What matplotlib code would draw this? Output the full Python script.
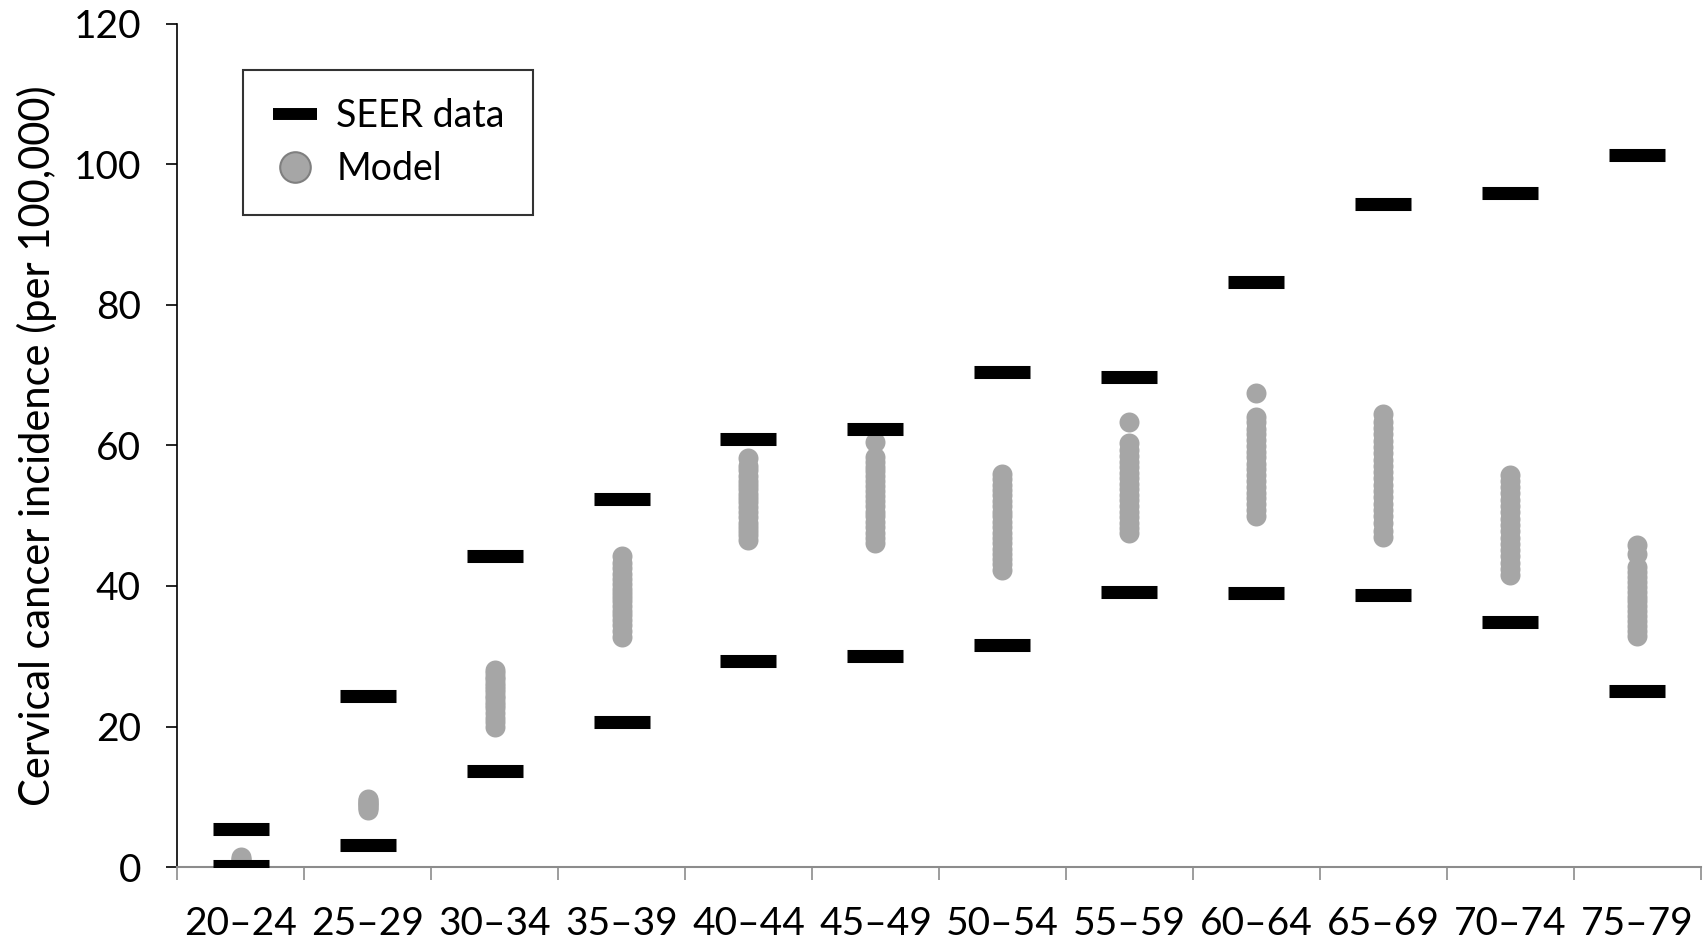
import matplotlib
matplotlib.use('Agg')
import matplotlib.pyplot as plt
from matplotlib.lines import Line2D

plt.rcParams['font.family'] = ['Lato', 'DejaVu Sans']

grupos = ['20–24', '25–29', '30–34', '35–39', '40–44', '45–49',
          '50–54', '55–59', '60–64', '65–69', '70–74', '75–79']

# SEER: limite alto y bajo por grupo de edad
seer_alto = [5.4, 24.3, 44.3, 52.4, 60.9, 62.3, 70.4, 69.7, 83.3, 94.3, 95.9, 101.3]
seer_bajo = [0.2, 3.1, 13.6, 20.6, 29.3, 30.1, 31.6, 39.2, 39.0, 38.7, 34.9, 25.1]

# resultados del modelo (cada punto una corrida)
modelo = [
    [1.0, 1.2, 1.4],
    [8.1, 8.4, 8.6, 8.8, 9.0, 9.1, 9.3, 9.5, 9.7],
    [20.0, 20.6, 21.2, 21.9, 22.6, 23.1, 23.5, 24.0, 24.4, 24.9, 25.3, 25.8, 26.2, 26.7, 27.1, 27.6, 28.0],
    [32.8, 33.6, 34.5, 35.2, 35.9, 36.5, 37.1, 37.8, 38.4, 39.0, 39.6, 40.3, 41.0, 41.7, 42.5, 43.3, 44.2],
    [46.6, 47.2, 47.8, 48.4, 49.0, 49.8, 50.5, 51.2, 51.9, 52.5, 53.1, 53.8, 54.4, 55.0, 55.7, 56.5, 57.1, 58.2],
    [46.1, 46.9, 47.6, 48.4, 49.1, 49.9, 50.6, 51.4, 52.1, 52.8, 53.5, 54.2, 54.9, 55.6, 56.3, 57.0, 57.7, 58.4, 60.5],
    [42.3, 43.1, 43.8, 44.6, 45.3, 46.1, 46.9, 47.6, 48.4, 49.1, 49.9, 50.6, 51.4, 52.1, 52.9, 53.6, 54.4, 55.2, 56.0],
    [47.5, 48.3, 49.0, 49.8, 50.6, 51.4, 52.2, 53.0, 53.8, 54.5, 55.3, 56.1, 56.9, 57.7, 58.5, 59.4, 60.3, 63.3],
    [50.0, 50.8, 51.6, 52.5, 53.3, 54.1, 55.0, 55.8, 56.6, 57.4, 58.3, 59.1, 59.9, 60.8, 61.6, 62.4, 63.3, 64.1, 67.4],
    [47.0, 47.8, 48.9, 49.9, 50.8, 51.7, 52.6, 53.5, 54.4, 55.3, 56.2, 57.1, 58.0, 58.9, 59.8, 60.7, 61.6, 62.5, 63.4, 64.5],
    [41.5, 42.4, 43.3, 44.2, 45.1, 46.0, 46.9, 47.8, 48.7, 49.6, 50.5, 51.4, 52.3, 53.2, 54.1, 55.0, 55.8],
    [32.9, 33.6, 34.3, 35.0, 35.7, 36.4, 37.1, 37.8, 38.5, 39.2, 39.9, 40.6, 41.3, 42.0, 42.7, 44.6, 45.8],
]

gris = '#a6a6a6'

fig = plt.figure(figsize=(17.04, 9.41), dpi=100)
ax = fig.add_axes([0.104, 0.0786, 0.894, 0.896])

for i, vals in enumerate(modelo):
    ax.plot([i] * len(vals), vals, 'o', color=gris, ms=14.4, mew=0, zorder=2)

x = list(range(len(grupos)))
ax.plot(x, seer_alto, '_', color='black', ms=40, mew=9.4, zorder=3)
ax.plot(x, seer_bajo, '_', color='black', ms=40, mew=9.4, zorder=3)

ax.set_xlim(-0.5, len(grupos) - 0.5)
ax.set_ylim(0, 120)
ax.set_yticks(range(0, 121, 20))
ax.set_xticks(x)
ax.set_xticklabels(grupos)
ax.set_xticks([i - 0.5 for i in range(len(grupos) + 1)], minor=True)
ax.tick_params(axis='x', which='major', length=0, pad=28, labelsize=28)
ax.tick_params(axis='x', which='minor', length=9.5, width=1.2, color='#8c8c8c')
ax.tick_params(axis='y', length=8, width=1.2, pad=18, labelsize=28)

for s in ['top', 'right']:
    ax.spines[s].set_visible(False)
ax.spines['bottom'].set_color('#8c8c8c')
ax.spines['bottom'].set_linewidth(1.5)
ax.spines['left'].set_linewidth(1.2)

ax.set_ylabel('Cervical cancer incidence (per 100,000)', fontsize=30, labelpad=12)

handles = [
    Line2D([], [], marker='_', ls='', color='black', ms=32, mew=8.6),
    Line2D([], [], marker='o', ls='', markerfacecolor=gris, markeredgecolor='#7f7f7f', ms=22, mew=1.5),
]
leg = ax.legend(handles, ['SEER data', 'Model'], loc='upper left', bbox_to_anchor=(0.043, 0.945),
                fontsize=27, frameon=True, fancybox=False, edgecolor='black',
                borderpad=0.75, labelspacing=0.45, handlelength=1.3, handletextpad=0.45,
                borderaxespad=0)
leg.get_frame().set_linewidth(1.5)

plt.savefig('out.png', dpi=100)
